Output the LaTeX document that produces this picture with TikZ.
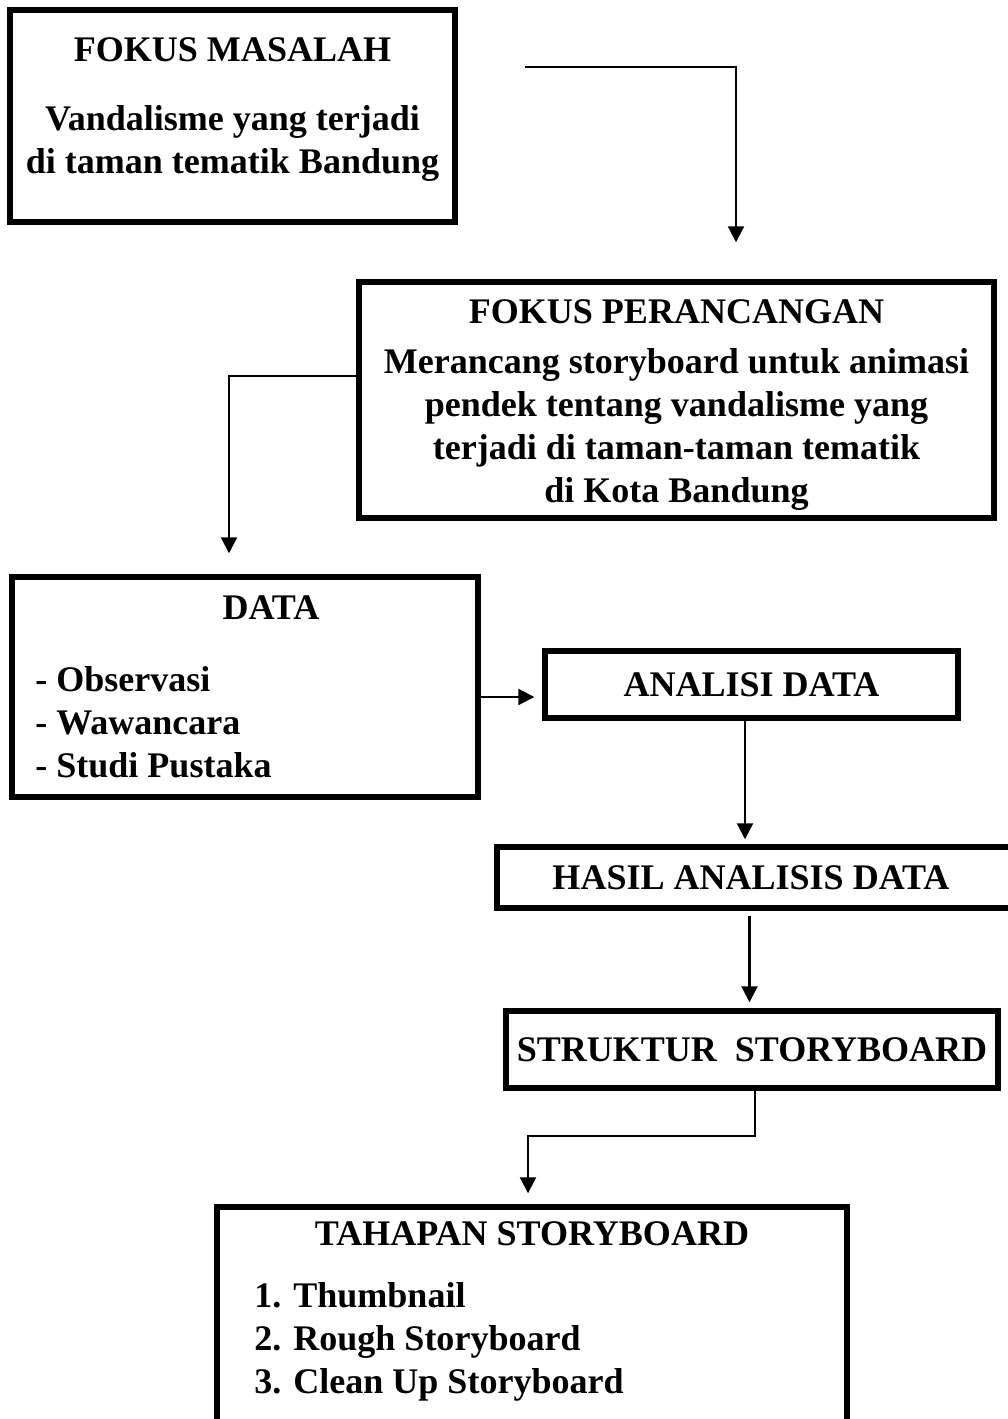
\documentclass[tikz,border=0pt]{standalone}
\usepackage{fontspec}
\setmainfont{Liberation Serif}
\usepackage{tikz}
\usetikzlibrary{arrows.meta,positioning,calc}

\begin{document}
\begin{tikzpicture}[
        font=\fontsize{20.5}{24.5}\selectfont\bfseries,
        box/.style={draw, line width=3.1pt, align=center, inner sep=0pt},
        txt/.style={inner sep=0pt, align=left},
        line/.style={-{Triangle[length=0.32cm, width=0.32cm]}, line width=1.2pt}
    ]
        \useasboundingbox (0,0) rectangle (20.16,-28.38);
        % boxes
        \node[box, minimum width=8.9cm, minimum height=4.24cm] (masalah) at (4.65,-2.32) {FOKUS MASALAH\\[0.52cm]Vandalisme yang terjadi\\di taman tematik Bandung\rule[-0.4cm]{0pt}{0pt}};
        \node[box, minimum width=12.7cm, minimum height=4.72cm] (perancangan) at (13.53,-8.0) {\rule{0pt}{0.68cm}FOKUS PERANCANGAN\\[0.14cm]Merancang storyboard untuk animasi\\pendek tentang vandalisme yang\\terjadi di taman-taman tematik\\di Kota Bandung};
        \node[box, minimum width=9.32cm, minimum height=4.4cm] (data) at (4.9,-13.74) {};
        \node[txt] (datatitle) at (5.42,-12.16) {DATA};
        \node[txt, anchor=west] (datalist) at (0.7,-14.44) {- Observasi\\- Wawancara\\- Studi Pustaka};
        \node[box, minimum width=8.26cm, minimum height=1.34cm] (analisi) at (15.03,-13.69) {ANALISI DATA};
        \node[box, minimum width=10.36cm, minimum height=1.22cm] (hasil) at (15.12,-17.55) {HASIL ANALISIS DATA\hspace{0.2cm}};
        \node[box, minimum width=9.84cm, minimum height=1.54cm] (struktur) at (15.04,-20.99) {STRUKTUR\ \ STORYBOARD};
        \node[box, minimum width=12.6cm, minimum height=4.36cm] (tahapan) at (10.64,-26.32) {};
        \node[txt] (tahapantitle) at (10.64,-24.68) {TAHAPAN STORYBOARD};
        \node[txt, anchor=west] (tahapanlist) at (5.08,-26.84) {1. Thumbnail\\2. Rough Storyboard\\3. Clean Up Storyboard};
        % connectors
        \coordinate (start) at (10.5,-1.34);
        \draw[line, shorten >=0.74cm] (start) -| ([xshift=1.19cm]perancangan.north);
        \draw[line, shorten >=0.42cm] ([yshift=0.48cm]perancangan.west) -| ([xshift=-0.32cm]data.north);
        \draw[line, shorten >=0.16cm] ([yshift=-0.2cm]data.east) -- ([yshift=-0.2cm]data.east -| analisi.west);
        \draw[line, shorten >=0.1cm] ([xshift=-0.13cm]analisi.south) -- ([xshift=-0.13cm]analisi.south |- hasil.north);
        \draw[line, shorten <=0.1cm, shorten >=0.12cm] ([xshift=-0.13cm]hasil.south) -- ([xshift=-0.13cm]hasil.south |- struktur.north);
        \draw[line, shorten >=0.22cm] ([xshift=0.06cm]struktur.south) -- ++(0,-0.9) -| ([xshift=-0.08cm]tahapan.north);
    \end{tikzpicture}
\end{document}
